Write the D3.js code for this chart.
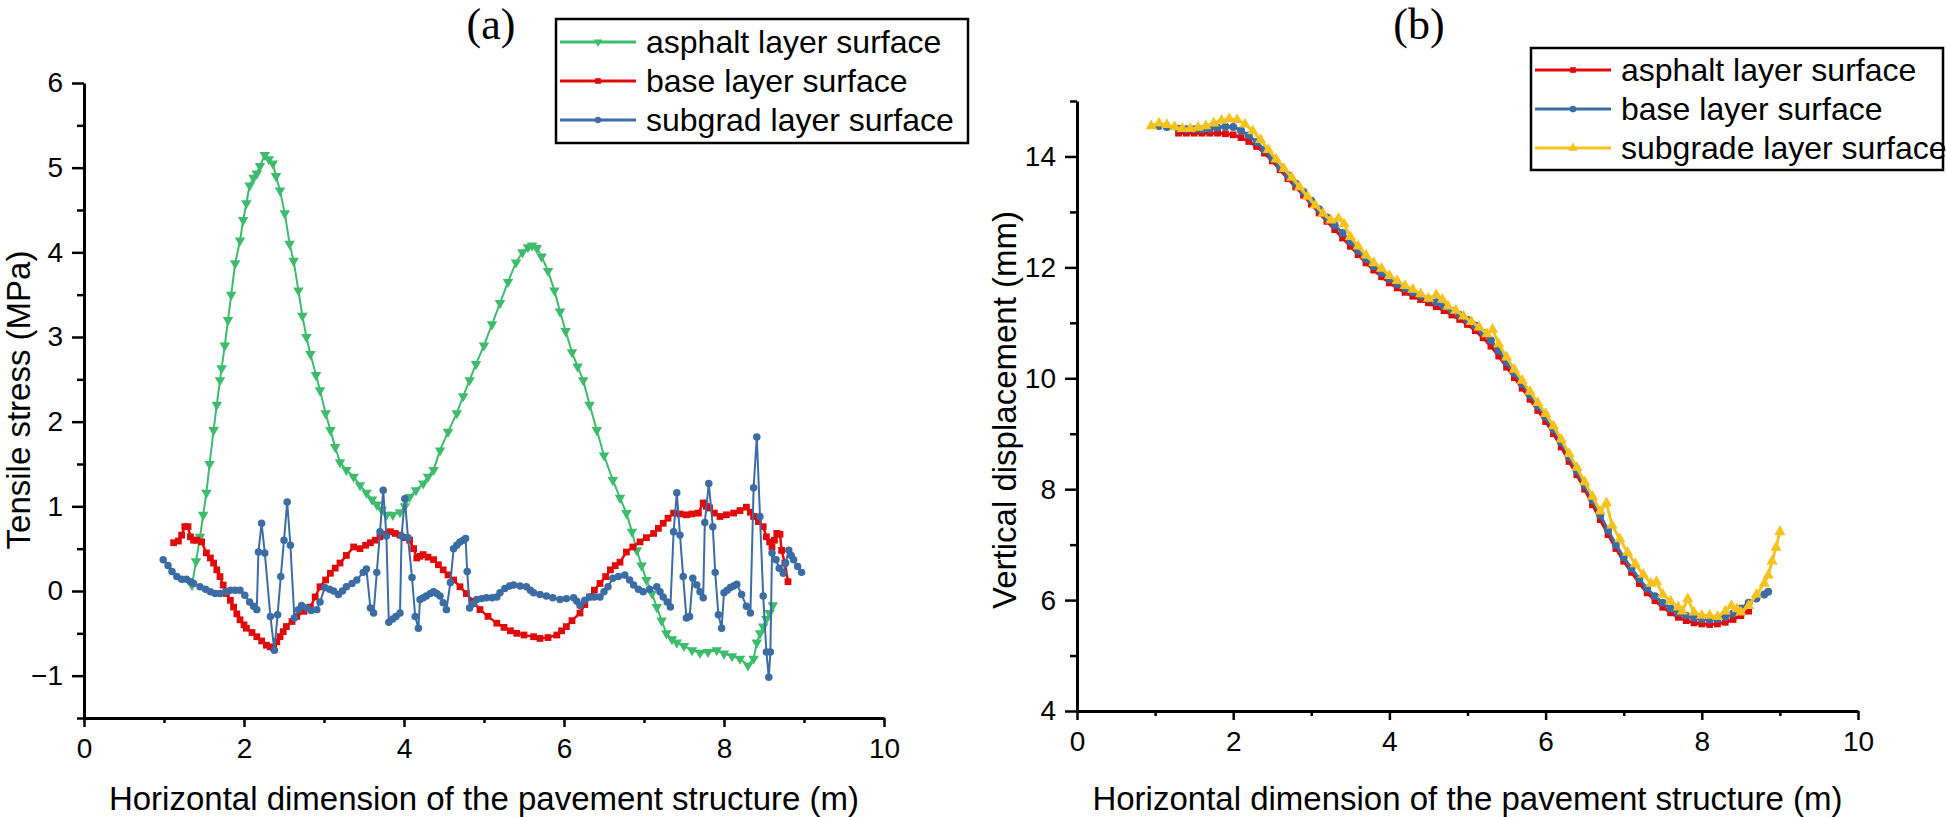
<!DOCTYPE html>
<html>
<head>
<meta charset="utf-8">
<script src="https://cdn.jsdelivr.net/npm/d3@7/dist/d3.min.js"></script>
<style>
body { margin: 0; background: #fff; }
text { font-family: "Liberation Sans", Arial, sans-serif; fill: #000; }
</style>
</head>
<body>
<svg id="chart" width="1946" height="817"></svg>
<script>
// ---- panel (a): tensile stress (MPa) ----
var asphaltA = [[1.35,0.07],[1.4,0.35],[1.45,0.64],[1.49,0.9],[1.53,1.16],[1.57,1.5],[1.62,1.9],[1.66,2.2],[1.70,2.49],[1.72,2.63],[1.76,2.9],[1.80,3.2],[1.84,3.5],[1.89,3.87],[1.95,4.14],[1.99,4.38],[2.03,4.58],[2.07,4.79],[2.12,4.88],[2.16,4.93],[2.2,5.02],[2.26,5.15],[2.31,5.1],[2.36,5.05],[2.4,4.9],[2.45,4.73],[2.51,4.46],[2.57,4.1],[2.62,3.9],[2.68,3.55],[2.73,3.25],[2.78,3.0],[2.83,2.8],[2.9,2.55],[2.95,2.37],[3.02,2.1],[3.08,1.9],[3.14,1.7],[3.2,1.52],[3.28,1.43],[3.37,1.35],[3.45,1.25],[3.53,1.16],[3.6,1.08],[3.66,1.02],[3.72,0.96],[3.78,0.9],[3.86,0.9],[3.95,0.93],[4.01,1.0],[4.07,1.11],[4.15,1.19],[4.24,1.27],[4.3,1.35],[4.37,1.43],[4.45,1.66],[4.55,1.88],[4.66,2.1],[4.74,2.3],[4.82,2.49],[4.9,2.68],[5.0,2.9],[5.1,3.15],[5.2,3.4],[5.3,3.65],[5.4,3.88],[5.48,4.0],[5.55,4.06],[5.6,4.08],[5.66,4.05],[5.72,3.95],[5.8,3.78],[5.88,3.55],[5.95,3.3],[6.02,3.07],[6.1,2.82],[6.17,2.65],[6.24,2.49],[6.32,2.2],[6.41,1.9],[6.5,1.6],[6.61,1.31],[6.7,1.1],[6.78,0.92],[6.85,0.7],[6.91,0.48],[6.97,0.3],[7.03,0.13],[7.1,-0.03],[7.16,-0.19],[7.22,-0.35],[7.28,-0.5],[7.35,-0.57],[7.41,-0.61],[7.5,-0.65],[7.6,-0.7],[7.7,-0.73],[7.8,-0.72],[7.91,-0.7],[8.0,-0.74],[8.1,-0.77],[8.2,-0.8],[8.3,-0.88],[8.37,-0.8],[8.41,-0.61],[8.45,-0.5],[8.49,-0.42],[8.53,-0.33],[8.57,-0.26],[8.61,-0.17]];

var baseA = [[1.12,0.57],[1.18,0.59],[1.22,0.66],[1.26,0.76],[1.3,0.76],[1.33,0.64],[1.37,0.6],[1.41,0.6],[1.47,0.58],[1.53,0.45],[1.58,0.39],[1.62,0.33],[1.66,0.25],[1.70,0.17],[1.74,0.07],[1.78,-0.03],[1.83,-0.11],[1.87,-0.19],[1.91,-0.27],[1.95,-0.34],[2.0,-0.4],[2.03,-0.44],[2.1,-0.49],[2.16,-0.54],[2.22,-0.59],[2.28,-0.64],[2.33,-0.66],[2.37,-0.67],[2.41,-0.6],[2.45,-0.54],[2.49,-0.48],[2.53,-0.42],[2.6,-0.36],[2.66,-0.3],[2.75,-0.24],[2.83,-0.19],[2.89,-0.07],[2.95,0.05],[3.02,0.13],[3.08,0.21],[3.14,0.27],[3.2,0.33],[3.28,0.42],[3.37,0.52],[3.45,0.5],[3.52,0.54],[3.58,0.57],[3.64,0.6],[3.7,0.64],[3.77,0.67],[3.83,0.7],[3.89,0.68],[3.95,0.66],[4.01,0.63],[4.07,0.6],[4.12,0.5],[4.16,0.39],[4.2,0.41],[4.24,0.43],[4.3,0.4],[4.37,0.37],[4.43,0.31],[4.49,0.25],[4.55,0.19],[4.62,0.13],[4.7,0.05],[4.78,-0.03],[4.86,-0.12],[4.95,-0.22],[5.05,-0.3],[5.16,-0.38],[5.25,-0.43],[5.33,-0.47],[5.41,-0.5],[5.5,-0.52],[5.62,-0.54],[5.7,-0.56],[5.8,-0.55],[5.91,-0.52],[5.97,-0.47],[6.03,-0.42],[6.1,-0.35],[6.2,-0.26],[6.26,-0.16],[6.32,-0.07],[6.38,0.01],[6.45,0.09],[6.52,0.17],[6.58,0.25],[6.64,0.3],[6.7,0.34],[6.78,0.46],[6.86,0.52],[6.95,0.58],[7.03,0.63],[7.12,0.68],[7.18,0.74],[7.24,0.8],[7.3,0.86],[7.37,0.92],[7.45,0.91],[7.53,0.9],[7.6,0.91],[7.68,0.92],[7.74,1.04],[7.78,1.0],[7.82,0.98],[7.88,0.92],[7.95,0.88],[8.03,0.9],[8.12,0.92],[8.2,0.95],[8.28,0.99],[8.33,0.93],[8.37,0.88],[8.43,0.82],[8.49,0.76],[8.53,0.64],[8.57,0.58],[8.6,0.52],[8.63,0.6],[8.66,0.68],[8.7,0.67],[8.72,0.48],[8.76,0.33],[8.8,0.11]];

var subgradA = [[0.99,0.37],[1.05,0.3],[1.1,0.23],[1.16,0.17],[1.22,0.14],[1.28,0.14],[1.33,0.11],[1.37,0.09],[1.45,0.05],[1.52,0.02],[1.58,-0.01],[1.64,-0.03],[1.7,-0.03],[1.77,-0.01],[1.83,0.01],[1.89,0.01],[1.95,0.01],[2.01,-0.05],[2.07,-0.13],[2.12,-0.18],[2.16,-0.22],[2.18,0.46],[2.22,0.8],[2.26,0.45],[2.33,-0.3],[2.38,-0.7],[2.42,-0.28],[2.46,0.17],[2.5,0.6],[2.54,1.05],[2.58,0.54],[2.63,-0.32],[2.68,-0.22],[2.72,-0.17],[2.78,-0.2],[2.84,-0.23],[2.91,-0.22],[2.95,-0.13],[3.01,0.04],[3.07,0.02],[3.12,0.0],[3.18,-0.04],[3.23,0.0],[3.28,0.05],[3.35,0.09],[3.41,0.13],[3.49,0.22],[3.53,0.26],[3.58,-0.2],[3.62,-0.26],[3.66,0.22],[3.7,0.7],[3.74,1.19],[3.78,0.65],[3.81,-0.37],[3.86,-0.33],[3.9,-0.3],[3.95,-0.26],[3.97,0.65],[4.01,1.09],[4.05,0.63],[4.1,0.16],[4.14,-0.3],[4.18,-0.44],[4.2,-0.1],[4.24,-0.08],[4.28,-0.06],[4.33,-0.03],[4.37,-0.01],[4.41,-0.03],[4.45,-0.06],[4.49,-0.14],[4.53,-0.22],[4.58,0.1],[4.62,0.5],[4.66,0.54],[4.7,0.58],[4.74,0.6],[4.77,0.62],[4.79,0.23],[4.82,-0.2],[4.87,-0.15],[4.91,-0.1],[4.97,-0.09],[5.03,-0.08],[5.1,-0.08],[5.16,-0.07],[5.2,-0.02],[5.26,0.03],[5.32,0.06],[5.37,0.07],[5.45,0.06],[5.53,0.05],[5.58,0.01],[5.62,-0.02],[5.7,-0.04],[5.78,-0.06],[5.86,-0.08],[5.95,-0.1],[6.03,-0.09],[6.12,-0.08],[6.16,-0.12],[6.2,-0.17],[6.26,-0.11],[6.32,-0.07],[6.38,-0.07],[6.45,-0.07],[6.5,-0.01],[6.55,0.05],[6.61,0.15],[6.68,0.17],[6.76,0.19],[6.82,0.13],[6.87,0.07],[6.93,0.02],[6.99,-0.01],[7.07,0.02],[7.16,0.05],[7.2,-0.01],[7.24,-0.07],[7.29,-0.13],[7.33,-0.19],[7.37,0.7],[7.41,1.16],[7.45,0.66],[7.49,0.17],[7.53,-0.32],[7.57,-0.3],[7.61,0.15],[7.66,0.07],[7.7,-0.01],[7.74,-0.08],[7.76,0.81],[7.81,1.27],[7.86,0.76],[7.89,0.22],[7.93,-0.28],[7.97,-0.44],[8.0,-0.02],[8.04,0.01],[8.08,0.04],[8.12,0.06],[8.16,0.08],[8.22,-0.04],[8.28,-0.18],[8.33,-0.26],[8.37,1.22],[8.41,1.82],[8.45,0.88],[8.49,-0.06],[8.53,-0.72],[8.56,-1.02],[8.58,-0.72],[8.6,0.45],[8.65,0.37],[8.69,0.27],[8.74,0.21],[8.77,0.33],[8.81,0.48],[8.84,0.42],[8.87,0.37],[8.92,0.29],[8.97,0.22]];

// ---- panel (b): vertical displacement (mm) ----
var asphaltB = [[1.3,14.42],[1.4,14.42],[1.5,14.42],[1.6,14.42],[1.7,14.42],[1.8,14.42],[1.9,14.41],[2.0,14.39],[2.1,14.34],[2.2,14.27],[2.3,14.18],[2.4,14.06],[2.5,13.92],[2.6,13.76],[2.7,13.6],[2.8,13.45],[2.9,13.3],[3.0,13.14],[3.1,12.98],[3.2,12.83],[3.3,12.68],[3.4,12.53],[3.5,12.38],[3.6,12.23],[3.7,12.08],[3.8,11.95],[3.9,11.83],[4.0,11.72],[4.1,11.63],[4.2,11.55],[4.3,11.48],[4.4,11.42],[4.5,11.36],[4.6,11.29],[4.7,11.22],[4.8,11.14],[4.9,11.06],[5.0,10.97],[5.1,10.86],[5.2,10.73],[5.3,10.58],[5.4,10.4],[5.5,10.2],[5.6,10.01],[5.7,9.82],[5.8,9.62],[5.9,9.42],[6.0,9.22],[6.1,9.0],[6.2,8.76],[6.3,8.5],[6.4,8.26],[6.5,8.0],[6.6,7.72],[6.7,7.45],[6.8,7.18],[6.9,6.93],[7.0,6.7],[7.1,6.5],[7.2,6.3],[7.3,6.13],[7.4,5.99],[7.5,5.87],[7.6,5.77],[7.7,5.69],[7.8,5.63],[7.9,5.59],[8.0,5.57],[8.1,5.56],[8.2,5.57],[8.3,5.6],[8.4,5.65],[8.5,5.72],[8.6,5.8]];

var baseB = [[1.05,14.55],[1.15,14.53],[1.3,14.5],[1.4,14.49],[1.5,14.49],[1.6,14.49],[1.7,14.5],[1.8,14.52],[1.9,14.54],[2.0,14.53],[2.1,14.47],[2.2,14.38],[2.3,14.26],[2.4,14.12],[2.5,13.97],[2.6,13.81],[2.7,13.66],[2.8,13.51],[2.9,13.36],[3.0,13.2],[3.1,13.05],[3.2,12.9],[3.3,12.76],[3.4,12.62],[3.5,12.46],[3.6,12.3],[3.7,12.15],[3.8,12.02],[3.9,11.9],[4.0,11.79],[4.1,11.7],[4.2,11.62],[4.3,11.55],[4.4,11.49],[4.5,11.43],[4.6,11.37],[4.7,11.3],[4.8,11.22],[4.9,11.14],[5.0,11.05],[5.1,10.95],[5.2,10.82],[5.3,10.68],[5.4,10.5],[5.5,10.29],[5.6,10.09],[5.7,9.9],[5.8,9.7],[5.9,9.5],[6.0,9.3],[6.1,9.08],[6.2,8.84],[6.3,8.58],[6.4,8.33],[6.5,8.07],[6.6,7.8],[6.7,7.53],[6.8,7.26],[6.9,7.0],[7.0,6.77],[7.1,6.57],[7.2,6.38],[7.3,6.21],[7.4,6.07],[7.5,5.95],[7.6,5.85],[7.7,5.77],[7.8,5.72],[7.9,5.68],[8.0,5.66],[8.1,5.65],[8.2,5.66],[8.3,5.7],[8.4,5.76],[8.5,5.85],[8.6,5.95],[8.7,6.03],[8.8,6.1],[8.85,6.15]];

var subgradeB = [[0.95,14.55],[1.05,14.6],[1.15,14.57],[1.25,14.53],[1.35,14.5],[1.45,14.5],[1.55,14.52],[1.65,14.55],[1.75,14.6],[1.85,14.65],[1.95,14.68],[2.05,14.66],[2.15,14.58],[2.25,14.46],[2.35,14.3],[2.45,14.12],[2.55,13.95],[2.65,13.78],[2.75,13.62],[2.85,13.45],[2.95,13.28],[3.05,13.12],[3.15,12.97],[3.25,12.85],[3.35,12.88],[3.42,12.78],[3.5,12.55],[3.6,12.38],[3.7,12.22],[3.8,12.08],[3.9,11.98],[4.0,11.85],[4.1,11.76],[4.2,11.67],[4.3,11.6],[4.4,11.52],[4.5,11.44],[4.6,11.5],[4.68,11.42],[4.75,11.3],[4.85,11.22],[4.95,11.12],[5.05,11.02],[5.15,10.92],[5.25,10.8],[5.32,10.88],[5.4,10.62],[5.5,10.38],[5.6,10.16],[5.7,9.96],[5.8,9.76],[5.9,9.56],[6.0,9.36],[6.1,9.14],[6.2,8.9],[6.3,8.64],[6.4,8.39],[6.5,8.13],[6.6,7.87],[6.7,7.6],[6.78,7.75],[6.85,7.35],[6.95,7.1],[7.05,6.86],[7.15,6.65],[7.25,6.46],[7.35,6.3],[7.42,6.33],[7.5,6.1],[7.6,5.98],[7.7,5.87],[7.75,5.8],[7.82,6.02],[7.9,5.78],[8.0,5.72],[8.1,5.72],[8.2,5.7],[8.3,5.8],[8.38,5.9],[8.45,5.84],[8.5,5.78],[8.6,5.9],[8.7,6.1],[8.8,6.3],[8.85,6.45],[8.9,6.7],[8.95,6.95],[9.0,7.23]];

// ticks
var xTicks = [0, 2, 4, 6, 8, 10];
var xMinor = [1, 3, 5, 7, 9];
var yTicksA = [-1, 0, 1, 2, 3, 4, 5, 6];
var yMinorA = [-1.5, -0.5, 0.5, 1.5, 2.5, 3.5, 4.5, 5.5];
var yTicksB = [4, 6, 8, 10, 12, 14];
var yMinorB = [5, 7, 9, 11, 13, 15];

var xTitle = "Horizontal dimension of the pavement structure (m)";

var svg = d3.select("#chart");

function styleAxis(g, width) {
    g.select(".domain").attr("stroke", "#000").attr("stroke-width", width);
    g.selectAll(".tick line").attr("stroke", "#000").attr("stroke-width", 2.5);
    g.selectAll(".tick text").style("font-size", "28px").attr("fill", "#000");
}

function drawPanel(p) {
    var x = d3.scaleLinear().domain([0, 10]).range([p.left, p.right]);
    var y = d3.scaleLinear().domain(p.yDomain).range([p.bottom, p.top]);
    var g = svg.append("g");

    // series first, axes on top
    p.series.forEach(function (s) {
        var line = d3.line().x(function (d) { return x(d[0]); }).y(function (d) { return y(d[1]); });
        g.append("path").datum(s.data).attr("d", line)
            .attr("fill", "none").attr("stroke", s.color).attr("stroke-width", s.width || 2);
        var sym = d3.symbol().type(s.symbol).size(s.size);
        g.append("g").selectAll("path").data(s.data).enter().append("path")
            .attr("d", sym)
            .attr("fill", s.color)
            .attr("transform", function (d) {
                return "translate(" + x(d[0]) + "," + y(d[1]) + ")" + (s.flip ? " rotate(180)" : "");
            });
    });

    var gx = g.append("g").attr("transform", "translate(0," + p.bottom + ")")
        .call(d3.axisBottom(x).tickValues(xTicks).tickSize(9).tickPadding(11).tickSizeOuter(0));
    styleAxis(gx, 3);
    var gxm = g.append("g").attr("transform", "translate(0," + p.bottom + ")")
        .call(d3.axisBottom(x).tickValues(xMinor).tickSize(5).tickFormat(""));
    gxm.select(".domain").remove();
    styleAxis(gxm, 0);

    var gy = g.append("g").attr("transform", "translate(" + p.left + ",0)")
        .call(d3.axisLeft(y).tickValues(p.yTicks).tickSize(12).tickPadding(9).tickSizeOuter(0));
    styleAxis(gy, 3);
    var gym = g.append("g").attr("transform", "translate(" + p.left + ",0)")
        .call(d3.axisLeft(y).tickValues(p.yMinor).tickSize(7).tickFormat(""));
    gym.select(".domain").remove();
    styleAxis(gym, 0);

    // titles
    g.append("text").attr("x", (p.left + p.right) / 2).attr("y", 810)
        .attr("text-anchor", "middle").style("font-size", "33px").text(xTitle);
    g.append("text").attr("transform", "translate(" + p.yTitleX + "," + p.yTitleY + ") rotate(-90)")
        .attr("text-anchor", "middle").style("font-size", "33px").text(p.yTitle);
    g.append("text").attr("x", p.labelX).attr("y", 39).attr("text-anchor", "middle")
        .style("font-family", "'Liberation Serif', 'Times New Roman', serif").style("font-size", "44px")
        .text(p.label);

    // legend
    var L = p.legend;
    g.append("rect").attr("x", L.x).attr("y", L.y).attr("width", L.w).attr("height", L.h)
        .attr("fill", "#fff").attr("stroke", "#000").attr("stroke-width", 2.5);
    p.series.forEach(function (s, i) {
        var ly = L.y + L.first + i * L.step;
        g.append("line").attr("x1", L.x + 4).attr("x2", L.x + 80).attr("y1", ly).attr("y2", ly)
            .attr("stroke", s.color).attr("stroke-width", 3);
        g.append("path").attr("d", d3.symbol().type(s.symbol).size(s.size * 0.7))
            .attr("fill", s.color)
            .attr("transform", "translate(" + (L.x + 42) + "," + ly + ")" + (s.flip ? " rotate(180)" : ""));
        g.append("text").attr("x", L.x + 90).attr("y", ly + 11).style("font-size", "32px").text(s.name);
    });
}

var green = "#3dbc6c", red = "#e10a0a", blue = "#3b6ca3", yellow = "#f7c21f";

drawPanel({
    left: 84, right: 884, top: 83, bottom: 718,
    yDomain: [-1.5, 6], yTicks: yTicksA, yMinor: yMinorA,
    yTitle: "Tensile stress (MPa)", yTitleX: 30, yTitleY: 400,
    label: "(a)", labelX: 491,
    legend: {x: 556, y: 19, w: 412, h: 124, first: 23, step: 39},
    series: [
        {name: "asphalt layer surface", data: asphaltA, color: green, symbol: d3.symbolTriangle, size: 48, flip: true},
        {name: "base layer surface", data: baseA, color: red, symbol: d3.symbolSquare, size: 46, width: 2.5},
        {name: "subgrad layer surface", data: subgradA, color: blue, symbol: d3.symbolCircle, size: 44}
    ]
});

drawPanel({
    left: 1077, right: 1858, top: 101, bottom: 711,
    yDomain: [4, 15], yTicks: yTicksB, yMinor: yMinorB,
    yTitle: "Vertical displacement (mm)", yTitleX: 1016, yTitleY: 410,
    label: "(b)", labelX: 1419,
    legend: {x: 1531, y: 48, w: 412, h: 122, first: 22, step: 39},
    series: [
        {name: "asphalt layer surface", data: asphaltB, color: red, symbol: d3.symbolSquare, size: 46, width: 3},
        {name: "base layer surface", data: baseB, color: blue, symbol: d3.symbolCircle, size: 50, width: 3},
        {name: "subgrade layer surface", data: subgradeB, color: yellow, symbol: d3.symbolTriangle, size: 55, width: 3}
    ]
});
</script>
</body>
</html>
